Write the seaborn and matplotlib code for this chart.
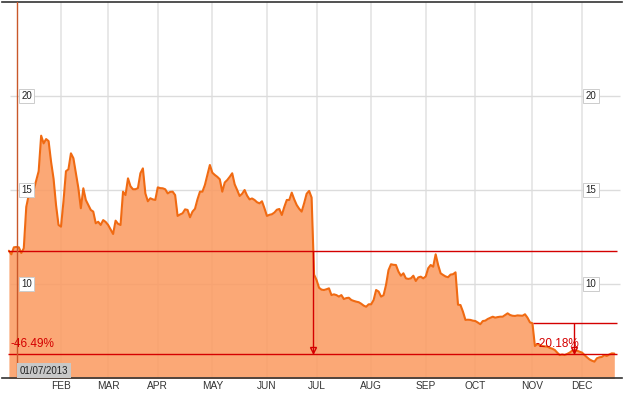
import numpy as np
import pandas as pd
import matplotlib
matplotlib.use("Agg")
import matplotlib.pyplot as plt
import matplotlib.transforms as mtransforms
import seaborn as sns

# ---- data (daily closes, trading-day index from 2 Jan 2013) ----
price = [
    11.77, 11.58, 11.95, 11.97, 11.95, 11.65, 11.90, 14.10, 14.73, 14.65,
    15.00, 15.50, 16.00, 17.89, 17.48, 17.71, 17.60, 16.50, 15.60, 14.20,
    13.14, 13.05, 14.40, 16.00, 16.10, 16.95, 16.69, 15.89, 15.10, 14.03,
    15.09, 14.47, 14.20, 13.94, 13.85, 13.23, 13.31, 13.14, 13.40, 13.30,
    13.14, 12.90, 12.66, 13.37, 13.20, 13.14, 14.91, 14.73, 15.62, 15.20,
    15.04, 15.04, 15.10, 15.89, 16.15, 14.82, 14.40, 14.56, 14.50, 14.47,
    15.14, 15.10, 15.09, 15.04, 14.82, 14.90, 14.91, 14.73, 13.62, 13.70,
    13.76, 13.97, 13.94, 13.55, 13.85, 14.00, 14.50, 14.91, 14.91, 15.27,
    15.80, 16.33, 15.92, 15.80, 15.70, 15.57, 14.91, 15.40, 15.53, 15.70,
    15.89, 15.30, 15.00, 14.68, 14.80, 15.00, 14.70, 14.50, 14.55, 14.47,
    14.35, 14.29, 14.40, 14.03, 13.62, 13.68, 13.71, 13.80, 13.95, 13.99,
    13.67, 14.10, 14.47, 14.47, 14.86, 14.50, 14.20, 14.00, 13.85, 14.30,
    14.80, 14.95, 14.60, 10.50, 10.21, 9.80, 9.70, 9.68, 9.72, 9.77,
    9.41, 9.45, 9.41, 9.33, 9.41, 9.20, 9.25, 9.27, 9.15, 9.10,
    9.06, 9.03, 8.95, 8.85, 8.79, 8.92, 8.92, 9.15, 9.68, 9.60,
    9.33, 9.40, 9.95, 10.74, 11.05, 11.02, 11.01, 10.66, 10.44, 10.57,
    10.30, 10.27, 10.30, 10.44, 10.16, 10.35, 10.39, 10.30, 10.40, 10.84,
    11.01, 10.92, 11.58, 11.01, 10.57, 10.48, 10.40, 10.36, 10.50, 10.52,
    10.62, 8.90, 8.88, 8.53, 8.09, 8.10, 8.09, 8.05, 8.03, 7.95,
    7.86, 8.03, 8.05, 8.14, 8.20, 8.26, 8.21, 8.24, 8.26, 8.26,
    8.35, 8.44, 8.35, 8.31, 8.30, 8.33, 8.32, 8.31, 8.39, 8.21,
    7.96, 7.91, 6.70, 6.81, 6.75, 6.70, 6.68, 6.67, 6.60, 6.56,
    6.49, 6.35, 6.22, 6.25, 6.22, 6.28, 6.35, 6.45, 6.49, 6.45,
    6.40, 6.35, 6.22, 6.10, 5.99, 5.92, 5.87, 6.05, 6.10, 6.12,
    6.22, 6.17, 6.25, 6.31, 6.30,
]
day = list(range(len(price)))

month_labels = ["FEB", "MAR", "APR", "MAY", "JUN", "JUL", "AUG", "SEP", "OCT", "NOV", "DEC"]
month_start = [21, 40, 60, 82, 104, 124, 146, 168, 188, 211, 231]
y_ticks = [10, 15, 20]

# comparison markers
ref1_level, ref1_end, ref1_text, ref1_arrow_day = 11.77, 6.30, "-46.49%", 122.4
ref2_level, ref2_end, ref2_text, ref2_arrow_day, ref2_start_day = 7.91, 6.30, "-20.18%", 227.8, 211.3
cursor_day, cursor_label = 3, "01/07/2013"

df = pd.DataFrame({"day": day, "price": price})

# ---- style ----
sns.set_style("white")
plt.rcParams["font.family"] = ["Liberation Sans", "DejaVu Sans"]

fig = plt.figure(figsize=(6.28, 3.94), dpi=100)
ax = fig.add_axes([2 / 628, 16 / 394, 620 / 628, 376 / 394])

x_left, x_right = -2.78, 247.1
ax.set_xlim(x_left, x_right)
ax.set_ylim(5, 25)

# grid
for m in month_start:
    ax.axvline(m, color="#e8e8e8", lw=1.4, zorder=0)
ax.hlines(y_ticks, 0.44, 246.3, color="#dcdcdc", lw=1.0, zorder=0)

# area
ax.fill_between(df["day"], df["price"], 0, color="#fb9b62", alpha=0.87, lw=0, zorder=1)
sns.lineplot(data=df, x="day", y="price", ax=ax, color="#f06a12", lw=1.5, zorder=3)

red = "#d40000"
# reference lines
ax.hlines([ref1_level, ref1_end], -0.4, 245.1, color=red, lw=1.0, zorder=4)
ax.hlines([ref2_level], ref2_start_day, 245.1, color=red, lw=1.0, zorder=4)
# arrows
for d, top, bot in [(ref1_arrow_day, ref1_level, ref1_end), (ref2_arrow_day, ref2_level, ref2_end)]:
    ax.vlines(d, bot, top, color=red, lw=1.0, zorder=4)
    ax.plot([d], [bot + 3.2 / 18.8], marker="v", ms=5, mfc="none", mec=red, mew=1.0, zorder=5)

ax.text(0.45, 6.66, ref1_text, color=red, fontsize=8.5, ha="left", va="baseline", zorder=6)
ax.text(212.1, 6.66, ref2_text, color=red, fontsize=8.5, ha="left", va="baseline", zorder=6)

# cursor line
ax.axvline(cursor_day + 0.3, color="#c9582a", lw=1.0, zorder=5)
ax.text(cursor_day + 1.25, 5.13, cursor_label, fontsize=7, color="#222222", ha="left", va="bottom",
        bbox=dict(boxstyle="square,pad=0.3", fc="#c8c8c8", ec="none"), zorder=7)

# y labels in boxes on both sides
trans = mtransforms.blended_transform_factory(ax.transAxes, ax.transData)
for v in y_ticks:
    for xf in (0.0403, 0.95):
        ax.text(xf, v, str(v), transform=trans, fontsize=7, color="#222222", ha="center", va="center",
                bbox=dict(boxstyle="square,pad=0.22", fc="white", ec="#cccccc", lw=0.7), zorder=6)

# axes cosmetics
ax.set_xticks(month_start)
ax.set_xticklabels(month_labels)
ax.set_yticks([])
ax.tick_params(axis="x", length=0, pad=2, labelsize=7.3, labelcolor="#333333")
ax.set_xlabel("")
ax.set_ylabel("")
for s in ("left", "right"):
    ax.spines[s].set_visible(False)
for s in ("top", "bottom"):
    ax.spines[s].set_color("#333333")
    ax.spines[s].set_linewidth(1.2)

fig.savefig("out.png", dpi=100)
